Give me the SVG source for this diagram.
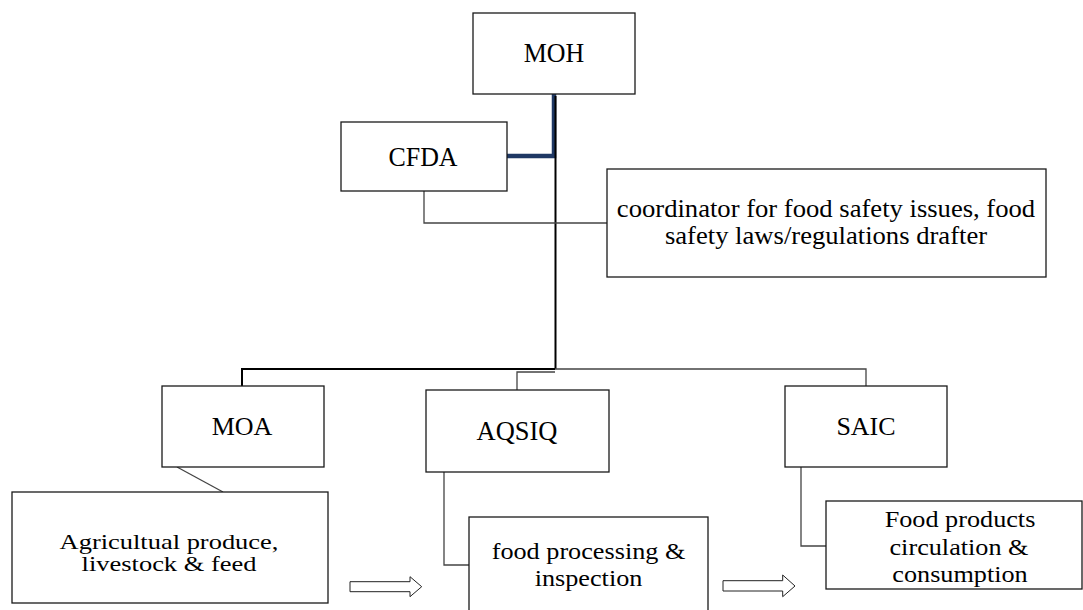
<svg xmlns="http://www.w3.org/2000/svg" width="1083" height="610" viewBox="0 0 1083 610">
<style>
.box{fill:#fff;stroke:#1a1a1a;stroke-width:1.3}
.thin{fill:none;stroke:#444;stroke-width:1.3}
.bold{fill:none;stroke:#000;stroke-width:2}
.navy{fill:none;stroke:#1f3864;stroke-width:4.5}
.blk{fill:#fff;stroke:#222;stroke-width:1}
</style>
<rect width="1083" height="610" fill="#fff"/>
<g id="connectors">
<path class="navy" d="M507 156 H554 V94"/>
<path class="bold" d="M555.5 96 V369"/>
<path class="bold" d="M555 369 H242 V386"/>
<path class="thin" d="M424 191 V223 H607"/>
<path class="thin" d="M517 390 V372 H555"/>
<path class="thin" d="M555 369 H866 V386"/>
<path class="thin" d="M177 467 L223 492"/>
<path class="thin" d="M444 472 V565 H469"/>
<path class="thin" d="M801 467 V546 H826"/>
<path id="arrow1" class="blk" d="M350 581.7 H410 V576.7 L421.7 586.7 L410 596.7 V591.7 H350 Z"/>
<path id="arrow2" class="blk" d="M723 580.7 H782.7 V575 L795 586 L782.7 596.7 V591 H723 Z"/>
</g>
<g font-family="Liberation Serif" fill="#000" text-anchor="middle">
<g id="MOH"><rect class="box" x="473" y="13" width="162" height="81"/><text transform="translate(554,62) scale(0.96,1)" font-size="27">MOH</text></g>
<g id="CFDA"><rect class="box" x="341" y="122" width="166" height="69"/><text transform="translate(423,165.5) scale(0.96,1)" font-size="27">CFDA</text></g>
<g id="coordinator"><rect class="box" x="607" y="169" width="439" height="108"/>
<text transform="translate(826,217) scale(1.065,1)" font-size="25">coordinator for food safety issues, food</text>
<text transform="translate(826,244) scale(1.065,1)" font-size="25">safety laws/regulations drafter</text></g>
<g id="MOA"><rect class="box" x="162" y="386" width="162" height="81"/><text x="242" y="435" font-size="26">MOA</text></g>
<g id="AQSIQ"><rect class="box" x="426" y="390" width="183" height="82"/><text transform="translate(517,440) scale(0.98,1)" font-size="27">AQSIQ</text></g>
<g id="SAIC"><rect class="box" x="785" y="386" width="162" height="81"/><text x="866" y="435" font-size="26">SAIC</text></g>
<g id="agri"><rect class="box" x="12" y="492" width="316" height="111"/>
<text transform="translate(169,549) scale(1.26,1)" font-size="21">Agricultual produce,</text>
<text transform="translate(169,571) scale(1.26,1)" font-size="21">livestock &amp; feed</text></g>
<g id="processing"><rect class="box" x="469" y="517" width="239" height="110"/>
<text transform="translate(588.5,559) scale(1.14,1)" font-size="23">food processing &amp;</text>
<text transform="translate(588.5,586) scale(1.14,1)" font-size="23">inspection</text></g>
<g id="products"><rect class="box" x="826" y="501" width="256" height="88"/>
<text transform="translate(960,527) scale(1.14,1)" font-size="23">Food products</text>
<text transform="translate(959,555) scale(1.14,1)" font-size="23">circulation &amp;</text>
<text transform="translate(960,582) scale(1.14,1)" font-size="23">consumption</text></g>
</g>
</svg>
